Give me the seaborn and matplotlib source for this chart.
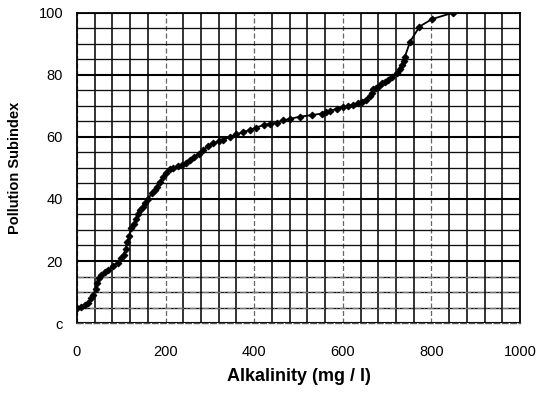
import matplotlib
matplotlib.use("Agg")
import matplotlib.pyplot as plt
from matplotlib.ticker import MultipleLocator
import seaborn as sns
import pandas as pd

alkalinity = [0, 10, 18, 25, 32, 37, 42, 46, 50, 55, 63, 70, 82, 92, 100, 105, 110, 113,
              118, 123, 128, 133, 138, 143, 148, 153, 160, 169, 175, 180, 187, 195, 202,
              210, 217, 228, 236, 245, 255, 265, 275, 285, 295, 308, 320, 330, 345, 360,
              375, 390, 405, 421, 436, 451, 466, 481, 503, 530, 552, 562, 571, 586, 601,
              612, 624, 635, 643, 652, 661, 665, 669, 675, 682, 688, 695, 703, 712, 722,
              728, 733, 737, 740, 752, 773, 801, 849]
subindex = [5, 5.2, 5.8, 6.5, 8, 9, 11, 13, 14.5, 15.5, 16.5, 17, 18.5, 19.5, 21, 22, 24, 26,
            28, 30.5, 32, 33.5, 35.3, 36.5, 37.5, 38.6, 40, 41.8, 43, 44, 45.5, 47, 48.5,
            49.5, 50, 50.5, 51, 51.7, 52.5, 53.5, 54.5, 55.7, 57, 58, 58.5, 59, 60, 60.8,
            61.5, 62.2, 63, 63.8, 64.2, 64.6, 65.3, 65.8, 66.5, 67, 67.5, 67.9, 68.3, 69, 69.5,
            69.9, 70.3, 70.8, 71.3, 72, 73, 74, 75.3, 75.8, 76.5, 77.2, 77.7, 78.3, 79.3, 80.5,
            82, 83.1, 84.5, 85.8, 90.7, 95.5, 97.9, 100]
x_ticks = [0, 200, 400, 600, 800, 1000]
y_ticks = [0, 20, 40, 60, 80, 100]
y_tick_labels = ["c", "20", "40", "60", "80", "100"]

df = pd.DataFrame({"Alkalinity": alkalinity, "Subindex": subindex})

sns.set_style("white")
plt.rcParams["font.family"] = ["Liberation Sans", "DejaVu Sans"]
plt.rcParams["text.color"] = "black"
plt.rcParams["axes.labelcolor"] = "black"
plt.rcParams["xtick.color"] = "black"
plt.rcParams["ytick.color"] = "black"

fig = plt.figure(figsize=(5.44, 3.95), dpi=100)
ax = fig.add_axes([0.1415, 0.182, 0.8145, 0.786])

ax.set_xlim(0, 1000)
ax.set_ylim(0, 100)

# graph-paper grid
ax.xaxis.set_minor_locator(MultipleLocator(40))
ax.yaxis.set_minor_locator(MultipleLocator(5))
ax.grid(True, which="minor", axis="x", color="#111111", linewidth=1.2)
ax.grid(True, which="major", axis="x", color="#666666", linewidth=0.9, linestyle=(0, (4, 2)))
ax.grid(True, which="minor", axis="y", color="#111111", linewidth=0.95)
ax.grid(True, which="major", axis="y", color="#000000", linewidth=1.5)
ax.set_axisbelow(True)

for yv in [5, 10, 15]:
    ax.axhline(yv, color="#777777", linewidth=0.9, linestyle=(0, (5, 2, 1, 2)), zorder=1.5)

sns.lineplot(data=df, x="Alkalinity", y="Subindex", ax=ax, color="black",
             linewidth=1.3, marker="D", markersize=3.4, markeredgecolor="black",
             markerfacecolor="black", zorder=3)

ax.set_xticks(x_ticks)
ax.set_xticklabels([str(v) for v in x_ticks], fontsize=10.5)
ax.set_yticks(y_ticks)
ax.set_yticklabels(y_tick_labels, fontsize=10.5)
ax.tick_params(axis="x", which="major", length=4, direction="out", pad=12, color="#444444")
ax.tick_params(axis="x", which="minor", length=0)
ax.tick_params(axis="y", which="both", length=0, pad=10)

ax.set_xlabel("Alkalinity (mg / l)", fontsize=13, fontweight="bold", labelpad=6)
ax.set_ylabel("Pollution Subindex", fontsize=10.5, fontweight="bold", labelpad=12)

for side in ["left", "right", "top"]:
    ax.spines[side].set_color("black")
    ax.spines[side].set_linewidth(1.3)
ax.spines["bottom"].set_color("#555555")
ax.spines["bottom"].set_linewidth(1.0)
ax.spines["bottom"].set_linestyle((0, (4, 2)))

fig.savefig("out.png", dpi=100)
